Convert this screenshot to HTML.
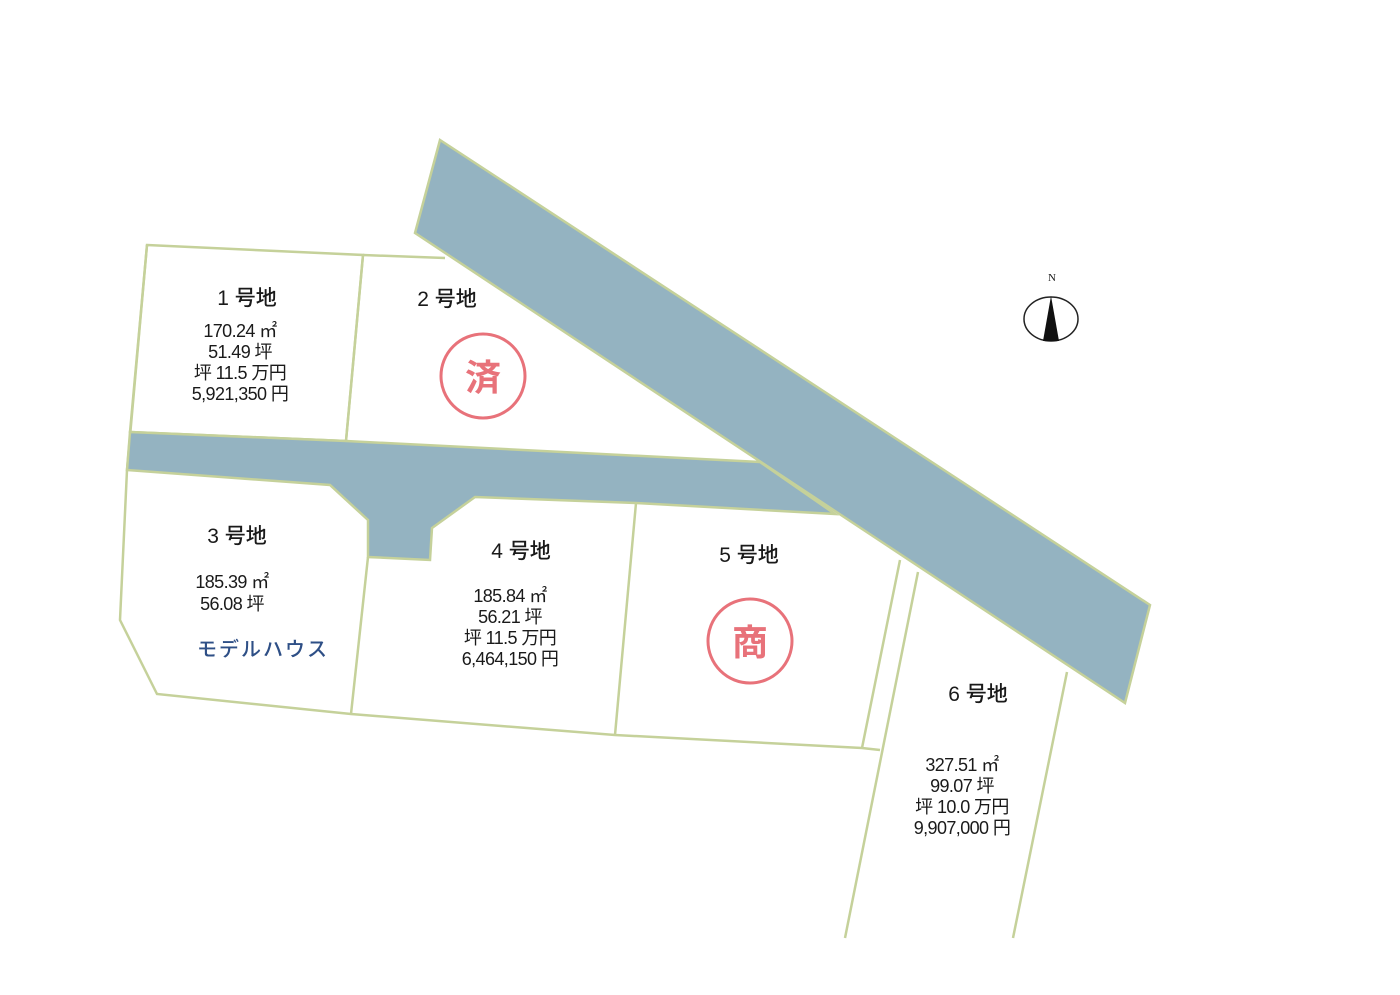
<!DOCTYPE html>
<html><head><meta charset="utf-8"><style>
body{margin:0;background:#fff;}
svg{display:block}
text{font-family:"Liberation Sans","Noto Sans CJK JP",sans-serif;fill:#1a1a1a;text-anchor:middle}
.t{font-size:21px;font-weight:500}
.d{font-size:18px;letter-spacing:-0.6px}
</style></head><body>
<svg width="1400" height="995" viewBox="0 0 1400 995">
<g fill="none" stroke="#c5d19a" stroke-width="2.5">
<polygon points="147,245 363,255 346,441 130,432" fill="#fff"/>
<polyline points="363,255 445,258"/>
<line x1="363" y1="255" x2="346" y2="441"/>
<polyline points="127,470 120,620 157,694 351,714 615,735 862,748 880,750"/>
<line x1="368" y1="557" x2="351" y2="714"/>
<line x1="636" y1="503" x2="615" y2="735"/>
<line x1="900" y1="560" x2="862" y2="748"/>
<line x1="918" y1="572" x2="845" y2="938"/>
<line x1="1067" y1="672" x2="1013" y2="938"/>
<line x1="147" y1="245" x2="127" y2="470"/>
</g>
<polygon points="130,432 346,441 760,462 835,514 636,503 475,497 432,528 430,560 368,557 368,520 330,485 127,470" fill="#94b3c1" stroke="#c5d19a" stroke-width="2.5"/>
<polygon points="440,140 1150,605 1125,703 415,233" fill="#94b3c1" stroke="#c5d19a" stroke-width="2.5"/>
<text class="t" x="247" y="305">1 号地</text>
<text class="d" x="240" y="337">170.24 ㎡</text>
<text class="d" x="240" y="358">51.49 坪</text>
<text class="d" x="240" y="379">坪 11.5 万円</text>
<text class="d" x="240" y="400">5,921,350 円</text>
<text class="t" x="447" y="306">2 号地</text>
<circle cx="483" cy="376" r="42" fill="none" stroke="#e8727a" stroke-width="3"/>
<text x="483" y="390" style="font-size:36px;font-weight:bold;fill:#e8727a">済</text>
<text class="t" x="237" y="543">3 号地</text>
<text class="d" x="232" y="588">185.39 ㎡</text>
<text class="d" x="232" y="610">56.08 坪</text>
<text x="263" y="656" style="font-size:20px;font-weight:500;fill:#2e4f86;letter-spacing:2px">モデルハウス</text>
<text class="t" x="521" y="558">4 号地</text>
<text class="d" x="510" y="602">185.84 ㎡</text>
<text class="d" x="510" y="623">56.21 坪</text>
<text class="d" x="510" y="644">坪 11.5 万円</text>
<text class="d" x="510" y="665">6,464,150 円</text>
<text class="t" x="749" y="562">5 号地</text>
<circle cx="750" cy="641" r="42" fill="none" stroke="#e8727a" stroke-width="3"/>
<text x="750" y="655" style="font-size:36px;font-weight:bold;fill:#e8727a">商</text>
<text class="t" x="978" y="701">6 号地</text>
<text class="d" x="962" y="771">327.51 ㎡</text>
<text class="d" x="962" y="792">99.07 坪</text>
<text class="d" x="962" y="813">坪 10.0 万円</text>
<text class="d" x="962" y="834">9,907,000 円</text>
<text x="1052" y="281" style="font-size:11px;font-family:'Liberation Serif',serif">N</text>
<ellipse cx="1051" cy="319" rx="27" ry="22" fill="none" stroke="#222" stroke-width="1.5"/>
<polygon points="1051,296 1043,341 1059,341" fill="#111"/>
</svg>
</body></html>
